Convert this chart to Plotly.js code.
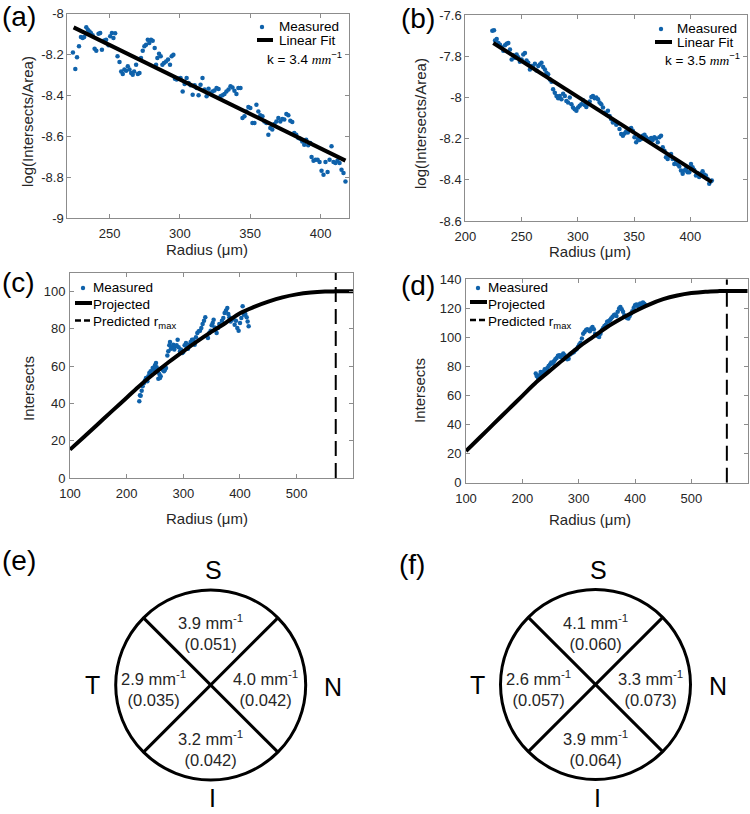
<!DOCTYPE html>
<html>
<head>
<meta charset="utf-8">
<script src="https://cdn.plot.ly/plotly-3.0.1.min.js"></script>
<style>
  body { margin: 0; background: #fff; }
  #fig { width: 750px; height: 814px; }
</style>
</head>
<body>
<div id="fig"></div>
<script>
// ---- (a) log(Intersects/Area) vs radius, first eye ----
const radA = [224.0,225.7,226.9,228.3,229.7,230.9,232.0,233.5,234.6,235.8,236.8,238.0,239.4,240.6,242.2,243.4,244.6,246.2,247.6,249.3,
  250.5,251.7,252.8,254.0,255.7,257.1,258.3,259.4,260.6,261.8,263.0,264.2,265.4,266.5,267.5,268.9,270.1,271.3,272.4,273.6,
  274.8,276.0,277.2,278.3,279.5,280.7,282.1,283.1,284.0,285.2,286.4,287.6,288.7,290.2,291.6,293.0,294.2,295.4,296.5,297.7,
  299.1,300.5,302.0,303.4,304.8,306.2,307.6,309.1,310.5,311.9,313.3,314.7,316.1,317.6,319.0,320.4,321.8,323.2,324.6,326.1,
  327.5,328.9,330.3,331.7,333.1,334.6,336.0,337.4,338.8,340.2,341.6,343.1,344.5,345.9,347.3,348.7,350.1,351.6,353.0,354.4,
  355.8,357.2,358.7,360.1,361.5,362.9,364.3,365.7,367.2,368.6,370.0,371.4,372.8,374.2,375.7,377.1,378.5,379.9,381.3,382.7,
  384.2,385.6,387.0,388.4,389.8,391.2,392.7,393.6,395.0,396.4,397.9,399.3,400.7,402.1,403.5,405.0,406.4,407.8,409.2,410.6,
  412.0,413.5,414.9,416.3,417.7]
const logA = [-8.189,-8.270,-8.213,-8.158,-8.113,-8.118,-8.113,-8.066,-8.078,-8.086,-8.094,-8.105,-8.171,-8.180,-8.097,-8.094,-8.176,-8.130,-8.127,-8.154,
  -8.110,-8.094,-8.118,-8.095,-8.208,-8.236,-8.282,-8.295,-8.273,-8.278,-8.257,-8.273,-8.290,-8.298,-8.282,-8.249,-8.295,-8.290,-8.216,-8.180,
  -8.159,-8.151,-8.127,-8.143,-8.127,-8.131,-8.167,-8.249,-8.216,-8.195,-8.208,-8.249,-8.241,-8.233,-8.224,-8.249,-8.208,-8.200,-8.318,-8.322,
  -8.318,-8.314,-8.380,-8.344,-8.314,-8.339,-8.350,-8.396,-8.350,-8.363,-8.399,-8.347,-8.314,-8.371,-8.404,-8.367,-8.388,-8.380,-8.375,-8.363,
  -8.368,-8.404,-8.399,-8.393,-8.380,-8.371,-8.355,-8.360,-8.376,-8.393,-8.363,-8.363,-8.510,-8.502,-8.478,-8.456,-8.461,-8.535,-8.535,-8.445,
  -8.478,-8.497,-8.502,-8.527,-8.535,-8.592,-8.559,-8.567,-8.540,-8.527,-8.510,-8.527,-8.515,-8.518,-8.491,-8.497,-8.523,-8.530,-8.584,-8.592,
  -8.608,-8.612,-8.625,-8.641,-8.616,-8.644,-8.633,-8.701,-8.719,-8.714,-8.714,-8.726,-8.768,-8.788,-8.726,-8.775,-8.714,-8.649,-8.726,-8.731,
  -8.719,-8.731,-8.763,-8.780,-8.821]
const fitA_r = [224.5, 417.7]
const fitA_v = [-8.066, -8.719]
const kA = 3.4

// ---- (b) log(Intersects/Area) vs radius, second eye ----
const radB = [224.0,225.5,226.4,227.9,229.4,230.8,232.3,233.8,235.3,236.7,238.2,239.7,241.2,242.6,244.1,245.6,247.0,248.5,250.0,251.5,
  253.0,254.4,255.9,257.4,258.9,260.3,261.8,263.3,264.8,266.2,267.7,269.2,270.7,272.1,273.6,275.1,276.6,278.0,279.5,281.0,
  282.5,283.9,285.4,286.9,288.4,289.8,291.3,292.8,294.3,295.7,297.2,298.7,300.2,301.6,303.1,304.6,306.1,307.5,309.0,310.5,
  312.0,313.4,314.9,316.4,317.9,319.3,320.8,322.3,323.8,325.2,326.7,328.2,329.7,331.1,332.6,334.1,335.6,337.0,338.5,340.0,
  341.5,342.9,344.4,345.9,347.4,348.8,350.3,351.8,353.3,354.7,356.2,357.7,359.2,360.6,362.1,363.6,365.1,366.5,368.0,369.5,
  371.0,372.4,373.9,375.4,376.9,378.3,379.8,381.3,382.8,384.2,385.7,387.2,388.7,390.1,391.6,393.1,394.6,396.0,397.5,399.0,
  400.5,401.9,403.4,404.9,406.4,407.8,409.3,410.8,412.3,413.7,415.2,416.7,418.2,419.0]
const logB = [-7.676,-7.674,-7.724,-7.716,-7.736,-7.744,-7.757,-7.773,-7.747,-7.740,-7.736,-7.768,-7.816,-7.795,-7.808,-7.792,-7.805,-7.827,-7.816,-7.792,
  -7.784,-7.821,-7.832,-7.864,-7.848,-7.853,-7.837,-7.869,-7.848,-7.840,-7.832,-7.853,-7.864,-7.880,-7.888,-7.913,-7.924,-7.961,-7.977,-7.993,
  -8.004,-7.993,-8.009,-7.982,-7.993,-8.017,-8.025,-8.001,-8.033,-8.049,-8.057,-8.065,-8.049,-8.041,-8.033,-8.014,-8.037,-8.046,-8.033,-8.020,
  -7.998,-7.993,-8.004,-8.001,-8.009,-8.025,-8.033,-8.049,-8.074,-8.082,-8.065,-8.090,-8.106,-8.122,-8.114,-8.133,-8.127,-8.154,-8.178,-8.186,
  -8.175,-8.165,-8.170,-8.154,-8.149,-8.162,-8.194,-8.218,-8.202,-8.207,-8.202,-8.186,-8.181,-8.194,-8.202,-8.210,-8.197,-8.207,-8.194,-8.199,
  -8.218,-8.194,-8.186,-8.242,-8.259,-8.291,-8.299,-8.283,-8.275,-8.299,-8.323,-8.307,-8.326,-8.336,-8.355,-8.371,-8.355,-8.347,-8.363,-8.363,
  -8.323,-8.339,-8.352,-8.379,-8.368,-8.387,-8.371,-8.358,-8.374,-8.379,-8.395,-8.419,-8.407,-8.403]
const fitB_r = [224.9, 419.0]
const fitB_v = [-7.736, -8.411]
const kB = 3.5

// ---- (c) intersects vs radius, first eye ----
const radC = [222.3,223.5,224.7,226.5,228.2,230.6,232.3,234.1,236.5,238.2,240.0,242.3,244.1,245.9,248.2,250.0,251.8,252.9,254.1,255.9,
  257.6,258.8,260.0,261.8,263.5,265.9,267.6,269.4,271.8,273.5,275.3,276.5,278.2,280.0,282.3,284.1,285.9,288.2,290.0,291.8,
  294.1,295.9,298.2,300.0,302.3,304.7,306.5,308.2,310.6,312.9,315.3,317.6,320.0,322.3,324.7,327.1,329.4,331.8,334.1,336.5,
  338.8,341.2,343.5,345.9,348.2,350.0,351.8,353.5,355.3,357.0,358.8,361.2,363.5,365.9,368.2,370.6,372.9,375.3,377.6,379.4,
  381.2,383.5,385.9,388.2,390.6,392.9,395.3,397.6,400.0,402.4,404.7,407.1,409.4,411.8,413.5,415.3]
const intC = [41.1,44.3,44.1,46.8,49.1,50.9,52.2,53.6,51.8,54.5,56.3,57.2,55.4,58.9,58.0,60.4,61.6,59.3,57.2,53.2,
  55.7,53.6,54.5,58.9,58.0,57.2,58.0,58.9,65.7,67.9,71.1,72.9,69.3,70.0,71.4,68.8,70.5,71.1,74.1,70.0,
  67.9,68.8,67.0,67.5,71.1,72.3,70.0,69.3,71.4,72.9,74.1,74.1,71.4,75.4,77.7,78.6,78.9,80.4,82.5,84.3,
  86.1,75.9,75.0,77.7,78.9,81.8,83.0,84.8,80.7,79.5,77.7,80.4,82.5,81.8,84.3,85.7,88.4,89.7,91.1,87.9,
  86.1,83.9,84.8,85.7,82.1,84.3,80.4,78.9,83.0,85.7,92.0,87.5,87.9,86.1,83.9,81.3]
const projC_r = [100,125,150,175,200,225,250,275,300,325,350,375,400,425,450,475,500,525,550,569,600]
const projC_v = [15.2,22.1,29.1,36.1,43.0,50.0,56.3,62.3,67.9,73.3,78.4,83.2,88.3,91.7,94.5,96.8,98.4,99.4,99.9,100,100]
const rmaxC = 569

// ---- (d) intersects vs radius, second eye ----
const radD = [223.8,225.5,227.9,230.2,232.6,234.9,237.3,239.7,242.0,244.4,246.7,249.1,251.4,253.8,256.2,258.5,260.9,263.2,265.6,268.0,
  270.3,272.7,275.0,277.4,279.7,282.1,284.5,286.8,289.2,291.5,293.9,296.2,298.6,301.0,303.3,305.7,308.0,310.4,312.7,315.1,
  317.5,319.8,322.2,324.5,326.9,329.2,331.6,334.0,336.3,338.7,341.0,343.4,345.7,348.1,350.5,352.8,355.2,357.5,359.9,362.2,
  364.6,367.0,369.3,371.7,374.0,376.4,378.7,381.1,383.5,385.8,388.2,390.5,392.9,395.2,397.6,400.0,402.3,404.7,407.0,409.4,
  411.7,414.1,416.5,418.8]
const intD = [75.1,73.5,72.1,73.9,76.2,75.1,76.2,78.1,77.4,79.0,80.4,81.3,82.7,82.0,83.6,85.0,85.9,87.3,87.7,86.6,
  87.7,88.9,87.7,85.9,85.0,85.4,88.2,88.9,89.5,90.0,91.2,91.8,93.4,95.1,96.4,99.2,102.6,103.8,104.9,105.6,
  104.9,104.2,106.1,107.2,105.6,102.6,101.5,101.0,100.3,102.6,104.9,106.5,107.9,108.8,110.7,111.1,111.8,113.0,114.1,115.3,
  115.7,114.8,117.6,119.9,121.0,119.4,117.6,115.3,114.8,113.4,113.0,114.8,116.4,118.0,120.3,122.1,122.6,121.7,122.6,123.3,
  122.1,124.0,123.1,122.1]
const projD_r = [100,125,150,175,200,225,250,275,300,325,350,375,400,425,450,475,500,525,550,563,600]
const projD_v = [21.8,31.3,40.8,50.3,59.8,69.3,77.4,85.5,93.3,100.2,107.0,112.8,118.0,122.6,126.3,128.8,130.5,131.5,131.9,132,132]
const rmaxD = 563

// ---- (e)/(f) sector values: k (mm^-1) and value in brackets ----
const sectors = ['S', 'N', 'I', 'T']
const kE = [3.9, 4.0, 3.2, 2.9]
const cvE = [0.051, 0.042, 0.042, 0.035]
const kF = [4.1, 3.3, 3.9, 2.6]
const cvF = [0.060, 0.073, 0.064, 0.057]

// ticks
const xTicksA = [250, 300, 350, 400]
const yTicksA = [-9, -8.8, -8.6, -8.4, -8.2, -8]
const xTicksB = [200, 250, 300, 350, 400]
const yTicksB = [-8.6, -8.4, -8.2, -8, -7.8, -7.6]
const xTicksCD = [100, 200, 300, 400, 500]
const yTicksC = [0, 20, 40, 60, 80, 100]
const yTicksD = [0, 20, 40, 60, 80, 100, 120, 140]


// pixel helpers (figure is 750 x 814, no margins)
const W = 750, H = 814
const px = x => x / W
const py = y => 1 - y / H

const dotColor = '#0f62ab'
const boxColor = '#8c8c8c'
const txtColor = '#262626'
const fontFam = '"Liberation Sans", Arial, sans-serif'

function tickLabel(v) {
	// plain hyphen minus like MATLAB, not the unicode minus
	return String(v)
}

function boxAxis(domain, range, ticks, anchor, standoff) {
	return {
		domain: domain,
		range: range,
		anchor: anchor,
		tickmode: 'array',
		tickvals: ticks,
		ticktext: ticks.map(tickLabel),
		ticks: 'inside',
		ticklen: 4,
		tickwidth: 1,
		tickcolor: boxColor,
		ticklabelstandoff: standoff,
		showline: true,
		linecolor: boxColor,
		linewidth: 1,
		mirror: 'ticks',
		showgrid: false,
		zeroline: false,
		tickfont: {size: 13, color: txtColor, family: fontFam}
	}
}

function hiddenAxis(domain, range, anchor) {
	return {domain: domain, range: range, anchor: anchor, visible: false,
		tickmode: 'array', tickvals: [], showticklabels: false,
		showgrid: false, zeroline: false, fixedrange: true}
}

let traces = [
	{x: radA, y: logA, xaxis: 'x', yaxis: 'y', mode: 'markers', type: 'scatter',
		marker: {color: dotColor, size: 4.5}},
	{x: fitA_r, y: fitA_v, xaxis: 'x', yaxis: 'y', mode: 'lines', type: 'scatter',
		line: {color: 'black', width: 4}},
	{x: radB, y: logB, xaxis: 'x2', yaxis: 'y2', mode: 'markers', type: 'scatter',
		marker: {color: dotColor, size: 4.5}},
	{x: fitB_r, y: fitB_v, xaxis: 'x2', yaxis: 'y2', mode: 'lines', type: 'scatter',
		line: {color: 'black', width: 4}},
	{x: radC, y: intC, xaxis: 'x3', yaxis: 'y3', mode: 'markers', type: 'scatter',
		marker: {color: dotColor, size: 4.5}},
	{x: projC_r, y: projC_v, xaxis: 'x3', yaxis: 'y3', mode: 'lines', type: 'scatter',
		line: {color: 'black', width: 4, shape: 'spline'}},
	{x: [rmaxC, rmaxC], y: [0, 110], xaxis: 'x3', yaxis: 'y3', mode: 'lines', type: 'scatter',
		line: {color: 'black', width: 2, dash: '15px,7px'}},
	{x: radD, y: intD, xaxis: 'x4', yaxis: 'y4', mode: 'markers', type: 'scatter',
		marker: {color: dotColor, size: 4.5}},
	{x: projD_r, y: projD_v, xaxis: 'x4', yaxis: 'y4', mode: 'lines', type: 'scatter',
		line: {color: 'black', width: 4, shape: 'spline'}},
	{x: [rmaxD, rmaxD], y: [0, 140], xaxis: 'x4', yaxis: 'y4', mode: 'lines', type: 'scatter',
		line: {color: 'black', width: 2, dash: '15px,7px'}},
	// empty traces so the two diagram subplots exist
	{x: [], y: [], xaxis: 'x5', yaxis: 'y5', type: 'scatter', mode: 'markers'},
	{x: [], y: [], xaxis: 'x6', yaxis: 'y6', type: 'scatter', mode: 'markers'}
]

let annotations = []
let shapes = []

function addText(text, x, y, size, opts) {
	annotations.push(Object.assign({
		text: text, x: px(x), y: py(y), xref: 'paper', yref: 'paper',
		showarrow: false, xanchor: 'center', yanchor: 'middle',
		font: {size: size, color: txtColor, family: fontFam}
	}, opts || {}))
}

// panel letters
const letterFont = {size: 28, color: 'black', family: fontFam}
addText('(a)', 0, 17, 28, {xanchor: 'left', font: letterFont})
addText('(b)', 399, 18, 28, {xanchor: 'left', font: letterFont})
addText('(c)', 0, 283, 28, {xanchor: 'left', font: letterFont})
addText('(d)', 399, 285, 28, {xanchor: 'left', font: letterFont})
addText('(e)', 0, 560, 28, {xanchor: 'left', font: letterFont})
addText('(f)', 397, 564, 28, {xanchor: 'left', font: letterFont})

// axis titles
addText('Radius (μm)', 207, 250, 15)
addText('Radius (μm)', 590, 251, 15)
addText('Radius (μm)', 207, 518, 15)
addText('Radius (μm)', 590, 519, 15)
addText('log(Intersects/Area)', 28, 122, 15, {textangle: -90})
addText('log(Intersects/Area)', 420, 124, 15, {textangle: -90})
addText('Intersects', 28, 389, 15, {textangle: -90})
addText('Intersects', 419, 391, 15, {textangle: -90})

// hand made legends (tight MATLAB spacing)
function legDot(x, y) {
	shapes.push({type: 'circle', xref: 'paper', yref: 'paper',
		x0: px(x - 2.2), x1: px(x + 2.2), y0: py(y + 2.2), y1: py(y - 2.2),
		fillcolor: dotColor, line: {width: 0}})
}
function legLine(x0, x1, y, width, dash) {
	shapes.push({type: 'line', xref: 'paper', yref: 'paper',
		x0: px(x0), x1: px(x1), y0: py(y), y1: py(y),
		line: {color: 'black', width: width, dash: dash || 'solid'}})
}
const legFont = {size: 13.5, color: 'black', family: fontFam}
const kText = k => 'k = ' + k.toFixed(1) + ' <span style="font-family:\'Liberation Serif\'"><i>mm</i></span><sup>−1</sup>'

legDot(262, 27)
addText('Measured', 277, 26.5, 13.5, {xanchor: 'left', font: legFont})
legLine(257, 273, 40, 4)
addText('Linear Fit', 277, 40.5, 13.5, {xanchor: 'left', font: legFont})
addText(kText(kA), 344, 57.5, 13.5, {xanchor: 'right', font: legFont})

legDot(661, 29)
addText('Measured', 675, 28.5, 13.5, {xanchor: 'left', font: legFont})
legLine(655, 672, 42, 4)
addText('Linear Fit', 675, 42.5, 13.5, {xanchor: 'left', font: legFont})
addText(kText(kB), 742, 59, 13.5, {xanchor: 'right', font: legFont})

legDot(83, 288)
addText('Measured', 91, 287, 13.5, {xanchor: 'left', font: legFont})
legLine(75, 92, 303, 4)
addText('Projected', 91, 304, 13.5, {xanchor: 'left', font: legFont})
legLine(75, 91, 320.5, 2.5, '6px,3px')
addText('Predicted r<sub>max</sub>', 91, 322, 13.5, {xanchor: 'left', font: legFont})

legDot(478, 288)
addText('Measured', 486, 287, 13.5, {xanchor: 'left', font: legFont})
legLine(470, 487, 302, 4)
addText('Projected', 486, 304, 13.5, {xanchor: 'left', font: legFont})
legLine(470, 486, 320, 2.5, '6px,3px')
addText('Predicted r<sub>max</sub>', 486, 322, 13.5, {xanchor: 'left', font: legFont})

// sector diagrams (axis unit = circle radius)
const sectorPos = {S: [0, 0.55], N: [0.58, -0.04], I: [0, -0.67], T: [-0.60, -0.04]}
const compass = {S: [0.03, 1.21], N: [1.29, -0.02], I: [0.02, -1.19], T: [-1.24, 0]}

function drawDiagram(xa, ya, kVals, cvVals) {
	shapes.push({type: 'circle', xref: xa, yref: ya, x0: -1, x1: 1, y0: -1, y1: 1,
		line: {color: 'black', width: 3}})
	const d = Math.SQRT1_2
	shapes.push({type: 'line', xref: xa, yref: ya, x0: -d, y0: d, x1: d, y1: -d,
		line: {color: 'black', width: 3}})
	shapes.push({type: 'line', xref: xa, yref: ya, x0: -d, y0: -d, x1: d, y1: d,
		line: {color: 'black', width: 3}})
	sectors.forEach(function(s, i) {
		annotations.push({xref: xa, yref: ya, x: sectorPos[s][0], y: sectorPos[s][1], showarrow: false,
			text: kVals[i].toFixed(1) + ' mm<sup>-1</sup><br>(' + cvVals[i].toFixed(3) + ')',
			font: {size: 16.5, color: txtColor, family: fontFam}})
		annotations.push({xref: xa, yref: ya, x: compass[s][0], y: compass[s][1], showarrow: false,
			text: s, font: {size: 25, color: 'black', family: fontFam}})
	})
}
drawDiagram('x5', 'y5', kE, cvE)
drawDiagram('x6', 'y6', kF, cvF)

let layout = {
	width: W,
	height: H,
	margin: {l: 0, r: 0, t: 0, b: 0},
	paper_bgcolor: 'white',
	plot_bgcolor: 'rgba(0,0,0,0)',
	showlegend: false,
	font: {family: fontFam, color: txtColor},
	xaxis: boxAxis([px(67.3), px(348.7)], [220, 420], xTicksA, 'y', 3),
	yaxis: boxAxis([py(218), py(13.9)], [-9, -8], yTicksA, 'x', 0),
	xaxis2: boxAxis([px(465.3), px(746.7)], [200, 450], xTicksB, 'y2', 3),
	yaxis2: boxAxis([py(221), py(15)], [-8.6, -7.6], yTicksB, 'x2', 0),
	xaxis3: boxAxis([px(70), px(353.3)], [100, 600], xTicksCD, 'y3', 3),
	yaxis3: boxAxis([py(478), py(272.7)], [0, 110], yTicksC, 'x3', 1),
	xaxis4: boxAxis([px(466), px(747.7)], [100, 600], xTicksCD, 'y4', 4),
	yaxis4: boxAxis([py(482.7), py(279.3)], [0, 140], yTicksD, 'x4', 1),
	xaxis5: hiddenAxis([px(77.7), px(343.7)], [-1.4, 1.4], 'y5'),
	yaxis5: hiddenAxis([py(808.5), py(552)], [-1.3, 1.4], 'x5'),
	xaxis6: hiddenAxis([px(462.5), px(728.5)], [-1.4, 1.4], 'y6'),
	yaxis6: hiddenAxis([py(808), py(551.5)], [-1.3, 1.4], 'x6'),
	annotations: annotations,
	shapes: shapes
}

Plotly.newPlot('fig', traces, layout, {displayModeBar: false, staticPlot: true})
</script>
</body>
</html>
